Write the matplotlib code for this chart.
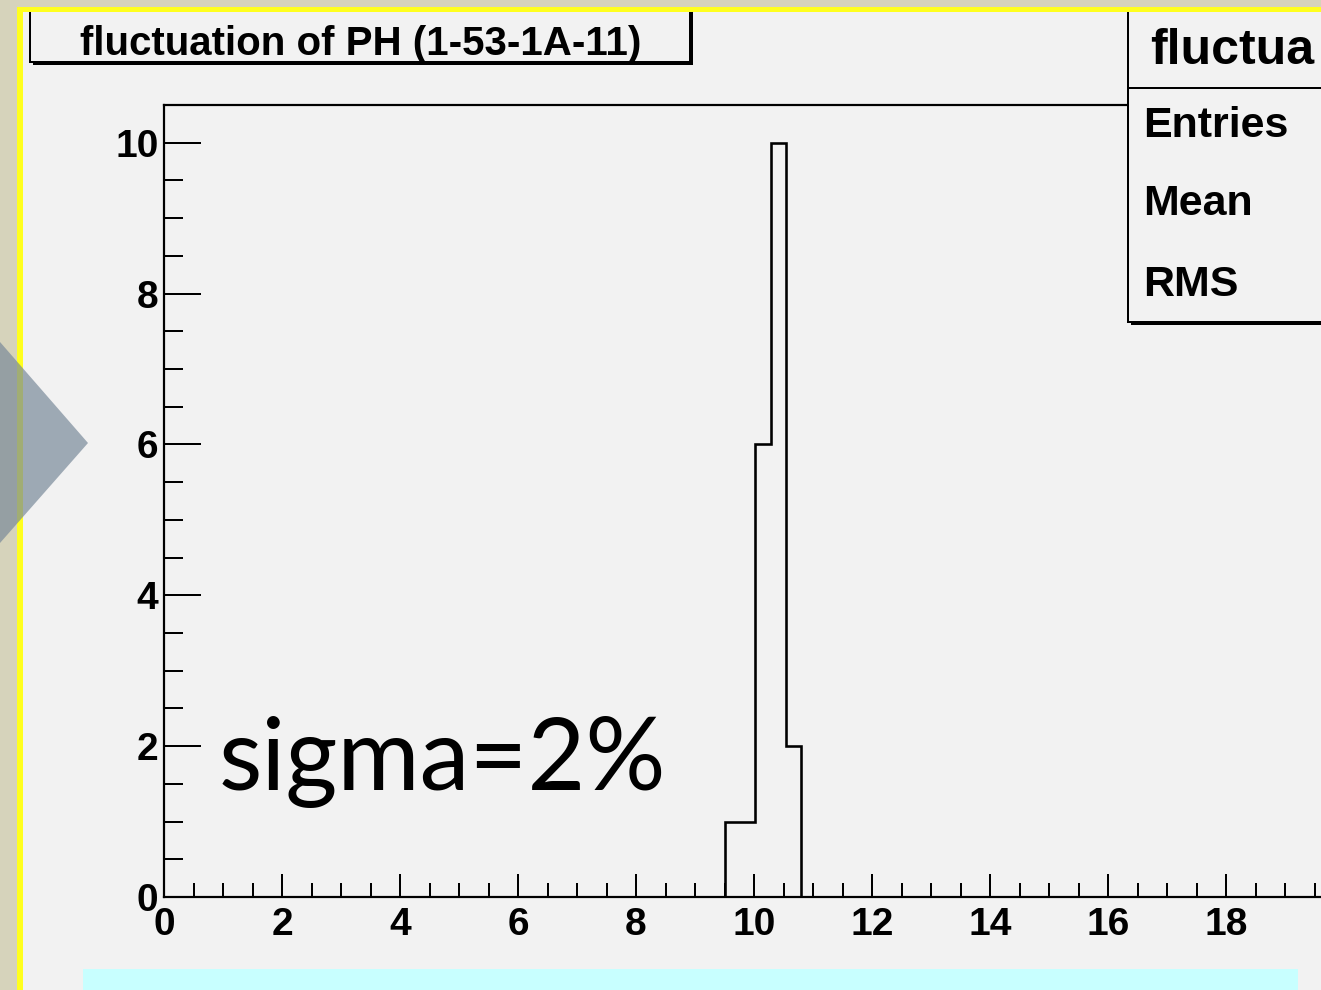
import matplotlib
matplotlib.use("Agg")
import matplotlib.pyplot as plt
from matplotlib.patches import Rectangle, Polygon

W, H = 1321, 990
PX = 72 / 100  # points per pixel at dpi 100

# histogram contents
bin_edges = [9.5, 9.76, 10.02, 10.28, 10.54, 10.80]
counts = [1, 1, 6, 10, 2]
x_ticks = [0, 2, 4, 6, 8, 10, 12, 14, 16, 18]
y_ticks = [0, 2, 4, 6, 8, 10]

title = "fluctuation of PH (1-53-1A-11)"
stats_name = "fluctua"
stats_rows = ["Entries", "Mean", "RMS"]
note = "sigma=2%"

canvas = "#f2f2f2"
root_font = "Liberation Sans"

fig = plt.figure(figsize=(W / 100, H / 100), dpi=100, facecolor=canvas)

# histogram pad (x axis runs past the right edge of the figure)
ax = fig.add_axes([164 / W, (H - 897) / H, 20 * 59.0 / W, (897 - 105) / H])
ax.set_facecolor("none")
ax.stairs(counts, bin_edges, color="black", lw=2.6 * PX)
ax.set_xlim(0, 20)
ax.set_ylim(0, 10.5)
ax.set_xticks(x_ticks)
ax.set_yticks(y_ticks)
ax.set_xticks([v / 2 for v in range(0, 40)], minor=True)
ax.set_yticks([v / 2 for v in range(0, 21)], minor=True)
for s in ["left", "bottom", "top"]:
    ax.spines[s].set_linewidth(2.2 * PX)
ax.spines["right"].set_visible(False)
ax.tick_params(axis="x", which="major", direction="in", length=23 * PX, width=2 * PX, pad=7)
ax.tick_params(axis="x", which="minor", direction="in", length=14 * PX, width=2 * PX)
ax.tick_params(axis="y", which="major", direction="in", length=37 * PX, width=2 * PX, pad=4)
ax.tick_params(axis="y", which="minor", direction="in", length=19 * PX, width=2 * PX)
for lab in ax.get_xticklabels() + ax.get_yticklabels():
    lab.set_fontfamily(root_font)
    lab.set_fontweight("bold")
    lab.set_fontsize(28)

# overlay in pixel coordinates
fg = fig.add_axes([0, 0, 1, 1], zorder=5)
fg.set_xlim(0, W)
fg.set_ylim(H, 0)
fg.axis("off")
fg.patch.set_alpha(0)


def root_box(x0, y0, x1, y1):
    fg.add_patch(Rectangle((x0 + 3, y0 + 3), x1 - x0, y1 - y0, facecolor="black", edgecolor="none"))
    fg.add_patch(Rectangle((x0, y0), x1 - x0, y1 - y0, facecolor=canvas, edgecolor="black", lw=2 * PX))


# title box
root_box(30, 4, 690, 62)
fg.text(361, 55, title, fontfamily=root_font, fontweight="bold", fontsize=29,
        ha="center", va="baseline")

# stats box
root_box(1128, 4, 1400, 322)
fg.plot([1128, 1400], [88, 88], color="black", lw=2 * PX)
fg.text(1150, 64, stats_name, fontfamily=root_font, fontweight="bold", fontsize=36,
        ha="left", va="baseline")
for label, base in zip(stats_rows, [137, 215, 296]):
    fg.text(1143, base, label, fontfamily=root_font, fontweight="bold", fontsize=31,
            ha="left", va="baseline")

# slide frame around the screenshot
beige = "#d6d3bb"
fg.add_patch(Rectangle((0, 0), 17, H, facecolor=beige, edgecolor="none"))
fg.add_patch(Rectangle((0, 0), W, 7, facecolor=beige, edgecolor="none"))
fg.add_patch(Rectangle((17, 7), 6, H, facecolor="#ffff1e", edgecolor="none"))
fg.add_patch(Rectangle((17, 7), W, 5, facecolor="#ffff1e", edgecolor="none"))

# slide arrow and caption strip
fg.add_patch(Polygon([[0, 342], [88, 443], [0, 543]], closed=True,
                     facecolor="#7a8a9a", alpha=0.7, edgecolor="none"))
fg.add_patch(Rectangle((83, 969), 1298 - 83, 30, facecolor="#c8ffff", edgecolor="none"))

fg.text(219, 790, note, fontfamily="Lato", fontsize=72, ha="left", va="baseline")

fig.savefig("out.png", dpi=100, facecolor=canvas)
